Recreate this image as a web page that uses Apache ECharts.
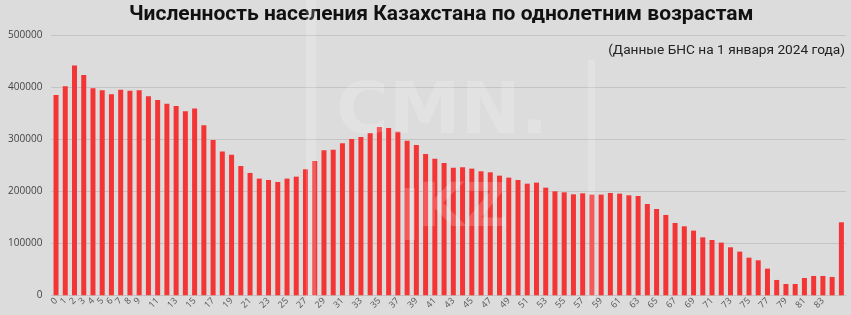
<!DOCTYPE html>
<html>
<head>
<meta charset="utf-8">
<script src="https://cdn.jsdelivr.net/npm/echarts@6/dist/echarts.min.js"></script>
<style>
html,body{margin:0;padding:0;background:#dcdcdc;}
#chart{width:851px;height:315px;}
</style>
</head>
<body>
<div id="chart"></div>
<script>
const titleText = 'Численность населения Казахстана по однолетним возрастам';
const subtitleText = '(Данные БНС на 1 января 2024 года)';
const ages = ['0','1','2','3','4','5','6','7','8','9','10','11','12','13','14','15','16','17','18','19',
  '20','21','22','23','24','25','26','27','28','29','30','31','32','33','34','35','36','37','38','39',
  '40','41','42','43','44','45','46','47','48','49','50','51','52','53','54','55','56','57','58','59',
  '60','61','62','63','64','65','66','67','68','69','70','71','72','73','74','75','76','77','78','79',
  '80','81','82','83','84','85+'];
const population = [385300, 401900, 441700, 423700, 398100, 394200, 386500, 395500, 393600, 394200,
  382700, 375600, 368600, 364100, 354000, 359000, 326900, 298700, 276300, 270500,
  248700, 235300, 224400, 221800, 217900, 224400, 228200, 242300, 258300, 278800,
  280100, 292300, 300600, 304500, 312200, 323700, 321800, 314700, 297400, 289100,
  271800, 262800, 254500, 245500, 246100, 243600, 238500, 236500, 230100, 226300,
  221800, 214700, 216700, 207000, 200000, 198100, 194200, 196100, 193600, 193600,
  196800, 195500, 192300, 191000, 175600, 166000, 154500, 139100, 132700, 124400,
  111500, 106400, 101300, 92300, 84000, 72400, 67300, 51300, 29500, 21800,
  21800, 33300, 37200, 37200, 35300, 140400];
const yTicks = [0, 100000, 200000, 300000, 400000, 500000];

const chart = echarts.init(document.getElementById('chart'), null, {renderer: 'canvas'});
const wm = 'rgba(255,255,255,0.18)';
chart.setOption({
  backgroundColor: '#dcdcdc',
  animation: false,
  title: [{
    text: titleText,
    left: 124,
    top: -1,
    textStyle: {fontFamily: 'Roboto', fontWeight: 'bold', fontSize: 21, color: '#111'}
  }, {
    text: subtitleText,
    right: 1,
    top: 39,
    textStyle: {fontFamily: 'Roboto', fontWeight: 'normal', fontSize: 13.7, color: '#222'}
  }],
  grid: {left: 51.4, right: 5, top: 35.3, bottom: 19.7, containLabel: false},
  xAxis: {
    type: 'category',
    data: ages,
    axisLine: {show: true, lineStyle: {color: '#c4c4c4'}},
    axisTick: {show: false},
    axisLabel: {
      rotate: 45,
      fontSize: 9,
      color: '#555',
      fontFamily: 'Open Sans',
      margin: 4,
      interval: function (i) { return i <= 9 || (i % 2 === 1 && i <= 83); }
    }
  },
  yAxis: {
    type: 'value',
    min: yTicks[0],
    max: yTicks[yTicks.length - 1],
    interval: yTicks[1] - yTicks[0],
    axisLine: {show: false},
    axisTick: {show: false},
    splitLine: {lineStyle: {color: '#c4c4c4', width: 1}},
    axisLabel: {fontSize: 10, color: '#444', fontFamily: 'Open Sans', margin: 9,
      formatter: function (v) { return String(v); }}
  },
  series: [{
    type: 'bar',
    data: population,
    barWidth: 5,
    itemStyle: {color: '#f43535'}
  }],
  graphic: [
    {type: 'rect', silent: true, z: 100, shape: {x: 306, y: 0, width: 10, height: 300}, style: {fill: wm}},
    {type: 'rect', silent: true, z: 100, shape: {x: 588, y: 60, width: 7, height: 240}, style: {fill: wm}},
    {type: 'text', silent: true, z: 100, left: 336, top: 78,
      style: {text: 'CMN.', fontFamily: 'DejaVu Sans', fontWeight: 'bold', fontSize: 72, fill: wm}},
    {type: 'rect', silent: true, z: 100, shape: {x: 405, y: 188, width: 10, height: 52}, style: {fill: wm}},
    {type: 'text', silent: true, z: 100, left: 418, top: 180,
      style: {text: 'KZ', fontFamily: 'DejaVu Sans', fontWeight: 'bold', fontSize: 60, fill: wm}}
  ]
});
</script>
</body>
</html>
